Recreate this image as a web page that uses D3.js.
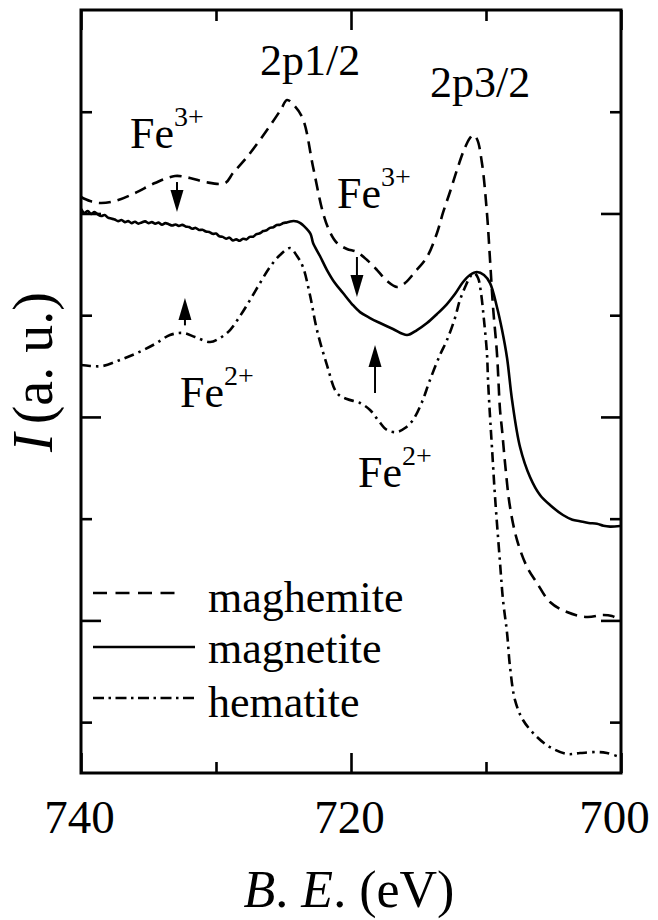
<!DOCTYPE html>
<html>
<head>
<meta charset="utf-8">
<script src="https://cdn.jsdelivr.net/npm/d3@7"></script>
<style>
  html, body { margin: 0; padding: 0; background: #fff; }
  svg { display: block; }
  text { font-family: "Liberation Serif", "Times New Roman", serif; fill: #000; }
</style>
</head>
<body>
<svg id="chart" width="658" height="920"></svg>
<script>
// Fe L-edge spectra: binding energy (eV) vs intensity (arbitrary units, stacked)
const maghemite = [
  [740.00, 6.162], [739.33, 6.122], [738.59, 6.103], [737.48, 6.122], [736.00, 6.201],
  [734.52, 6.299], [733.04, 6.368], [731.93, 6.349], [730.81, 6.309], [729.33, 6.299],
  [728.74, 6.398], [727.70, 6.555], [726.22, 6.820], [725.20, 7.020], [724.74, 7.115],
  [724.20, 7.060], [723.56, 6.929], [722.81, 6.457], [722.07, 6.005], [721.56, 5.818],
  [721.04, 5.710], [720.30, 5.651], [719.56, 5.621], [718.81, 5.542], [718.07, 5.444],
  [717.33, 5.336], [716.59, 5.277], [716.00, 5.316], [715.26, 5.425], [714.37, 5.572],
  [713.63, 5.808], [713.19, 6.005], [712.67, 6.211], [712.15, 6.427], [711.63, 6.624],
  [711.19, 6.742], [710.96, 6.771], [710.67, 6.732], [710.30, 6.496], [709.93, 6.005],
  [709.70, 5.542], [709.48, 5.081], [709.19, 4.628], [708.96, 4.068], [708.81, 3.871],
  [708.59, 3.547], [708.22, 3.114], [707.70, 2.790], [706.96, 2.525], [706.22, 2.367],
  [705.26, 2.181], [704.00, 2.082], [702.52, 2.033], [701.33, 2.053], [700.67, 2.043],
  [700.07, 2.004]
];

const magnetite = [
  [740.00, 6.044], [739.75, 6.005], [739.50, 6.024], [739.25, 5.995], [739.00, 6.014],
  [738.75, 5.990], [738.50, 5.975], [738.25, 5.985], [738.00, 5.960], [737.75, 5.950],
  [737.50, 5.940], [737.25, 5.925], [737.00, 5.935], [736.75, 5.915], [736.50, 5.925],
  [736.25, 5.905], [736.00, 5.918], [735.75, 5.900], [735.50, 5.912], [735.25, 5.922],
  [735.00, 5.905], [734.75, 5.915], [734.50, 5.900], [734.25, 5.910], [734.00, 5.890],
  [733.75, 5.905], [733.50, 5.895], [733.25, 5.882], [733.00, 5.892], [732.75, 5.878],
  [732.50, 5.888], [732.25, 5.872], [732.00, 5.866], [731.75, 5.850], [731.50, 5.858],
  [731.25, 5.838], [731.00, 5.840], [730.75, 5.822], [730.50, 5.818], [730.25, 5.800],
  [730.00, 5.802], [729.75, 5.776], [729.50, 5.770], [729.25, 5.752], [729.00, 5.762],
  [728.75, 5.735], [728.50, 5.745], [728.25, 5.732], [728.00, 5.752], [727.75, 5.745],
  [727.50, 5.770], [727.25, 5.772], [727.00, 5.797], [726.75, 5.805], [726.50, 5.827],
  [726.25, 5.835], [726.00, 5.858], [725.75, 5.865], [725.50, 5.886], [725.25, 5.890],
  [725.00, 5.906], [724.75, 5.912], [724.50, 5.922], [724.25, 5.926], [724.00, 5.922],
  [723.75, 5.905], [723.50, 5.878], [723.00, 5.800], [722.81, 5.710], [722.30, 5.582],
  [721.78, 5.444], [721.19, 5.316], [720.59, 5.218], [719.93, 5.110], [719.33, 5.030],
  [718.59, 4.972], [717.85, 4.923], [716.89, 4.864], [715.85, 4.805], [715.11, 4.854],
  [714.37, 4.923], [713.63, 5.012], [712.89, 5.110], [712.30, 5.208], [711.70, 5.326],
  [711.19, 5.395], [710.67, 5.425], [710.15, 5.395], [709.70, 5.316], [709.19, 5.081],
  [708.81, 4.854], [708.44, 4.579], [708.07, 4.166], [707.48, 3.704], [706.74, 3.409],
  [706.00, 3.232], [705.26, 3.134], [704.30, 3.036], [703.60, 2.990], [703.04, 2.975],
  [702.40, 2.958], [701.78, 2.950], [701.30, 2.930], [700.81, 2.922], [700.07, 2.928]
];

const hematite = [
  [740.00, 4.510], [739.33, 4.501], [738.37, 4.501], [737.11, 4.560], [735.85, 4.628],
  [734.52, 4.717], [733.41, 4.805], [732.44, 4.825], [731.56, 4.786], [730.44, 4.736],
  [729.70, 4.776], [728.96, 4.854], [728.22, 4.992], [727.48, 5.149], [726.74, 5.316],
  [726.00, 5.474], [725.26, 5.592], [724.52, 5.660], [724.00, 5.582], [723.56, 5.474],
  [723.04, 5.198], [722.52, 4.854], [721.78, 4.510], [721.04, 4.235], [720.30, 4.176],
  [719.33, 4.137], [718.59, 4.068], [718.00, 3.970], [717.33, 3.871], [716.59, 3.852],
  [716.00, 3.891], [715.41, 3.970], [714.74, 4.147], [714.15, 4.363], [713.41, 4.609],
  [712.89, 4.756], [712.30, 4.972], [711.93, 5.149], [711.48, 5.297], [711.19, 5.375],
  [710.89, 5.415], [710.59, 5.366], [710.37, 5.218], [710.15, 4.953], [709.93, 4.628],
  [709.85, 4.363], [709.70, 3.999], [709.56, 3.704], [709.33, 3.213], [708.96, 2.564],
  [708.74, 2.200], [708.44, 1.876], [708.22, 1.542], [707.85, 1.217], [707.26, 1.021],
  [706.22, 0.854], [705.26, 0.755], [704.00, 0.687], [703.04, 0.696], [701.78, 0.706],
  [701.04, 0.696], [700.30, 0.667]
];

const seriesNames = ["maghemite", "magnetite", "hematite"];
const xMajorTicks = [740, 720, 700];
const xMinorTicks = [730, 710];
const yMajorTicks = [2, 4, 6];
const yMinorTicks = [1, 3, 5, 7];

// peak and valence labels, placed in data coordinates (E, I)
const peakLabels = [
  { text: "2p1/2", E: 726.74, I: 7.361 },
  { text: "2p3/2", E: 714.15, I: 7.145 }
];
const ionLabels = [
  { base: "Fe", sup: "3+", E: 736.37, I: 6.643 },
  { base: "Fe", sup: "3+", E: 721.04, I: 6.054 },
  { base: "Fe", sup: "2+", E: 732.67, I: 4.097 },
  { base: "Fe", sup: "2+", E: 719.48, I: 3.311 }
];
// arrows: energy, tail intensity, tip intensity
const arrows = [
  { E: 732.89, from: 6.309, to: 6.014 },
  { E: 719.56, from: 5.572, to: 5.179 },
  { E: 732.30, from: 4.900, to: 5.169 },
  { E: 718.22, from: 4.235, to: 4.707 }
];

const svg = d3.select("#chart");
const plotLeft = 81, plotRight = 621, plotTop = 10, plotBottom = 773;

const x = d3.scaleLinear().domain([740, 700]).range([plotLeft, plotRight]);
const y = d3.scaleLinear().domain([0.5, 8]).range([plotBottom, plotTop]);

const dashes = {
  maghemite: "12,7",
  magnetite: null,
  hematite: "10,5,2.5,5"
};
const legendDashes = {
  maghemite: "14,8.5",
  magnetite: null,
  hematite: "11,4.5,2.5,4.5"
};

const line = d3.line()
  .x(d => x(d[0]))
  .y(d => y(d[1]))
  .curve(d3.curveCatmullRom.alpha(0.5));

const data = { maghemite, magnetite, hematite };

// curves
seriesNames.forEach(name => {
  svg.append("path")
    .datum(data[name])
    .attr("d", line)
    .attr("fill", "none")
    .attr("stroke", "#000")
    .attr("stroke-width", 2.6)
    .attr("stroke-linejoin", "round")
    .attr("stroke-dasharray", dashes[name]);
});

// axes (ticks pointing inward)
function styleAxis(g) {
  g.select(".domain").remove();
  g.selectAll(".tick line").attr("stroke", "#000").attr("stroke-width", 2.6);
}
const noLabel = () => "";

svg.append("g").attr("transform", `translate(0,${plotBottom})`)
  .call(d3.axisBottom(x).tickValues(xMajorTicks).tickSize(-20).tickFormat(d3.format("d")))
  .call(styleAxis)
  .call(g => g.selectAll(".tick text")
    .attr("y", 60).attr("dy", 0)
    .attr("dx", d => d === 700 ? -7 : -2)
    .attr("font-size", 47)
    .attr("font-family", '"Liberation Serif", "Times New Roman", serif')
    .attr("fill", "#000"));
svg.append("g").attr("transform", `translate(0,${plotBottom})`)
  .call(d3.axisBottom(x).tickValues(xMinorTicks).tickSize(-11).tickFormat(noLabel))
  .call(styleAxis);
svg.append("g").attr("transform", `translate(0,${plotTop})`)
  .call(d3.axisTop(x).tickValues(xMajorTicks).tickSize(-20).tickFormat(noLabel))
  .call(styleAxis);
svg.append("g").attr("transform", `translate(0,${plotTop})`)
  .call(d3.axisTop(x).tickValues(xMinorTicks).tickSize(-11).tickFormat(noLabel))
  .call(styleAxis);
svg.append("g").attr("transform", `translate(${plotLeft},0)`)
  .call(d3.axisLeft(y).tickValues(yMajorTicks).tickSize(-20).tickFormat(noLabel))
  .call(styleAxis);
svg.append("g").attr("transform", `translate(${plotLeft},0)`)
  .call(d3.axisLeft(y).tickValues(yMinorTicks).tickSize(-11).tickFormat(noLabel))
  .call(styleAxis);
svg.append("g").attr("transform", `translate(${plotRight},0)`)
  .call(d3.axisRight(y).tickValues(yMajorTicks).tickSize(-20).tickFormat(noLabel))
  .call(styleAxis);
svg.append("g").attr("transform", `translate(${plotRight},0)`)
  .call(d3.axisRight(y).tickValues(yMinorTicks).tickSize(-11).tickFormat(noLabel))
  .call(styleAxis);

// frame
svg.append("rect")
  .attr("x", plotLeft).attr("y", plotTop)
  .attr("width", plotRight - plotLeft).attr("height", plotBottom - plotTop)
  .attr("fill", "none").attr("stroke", "#000").attr("stroke-width", 3);

// axis titles
const xTitle = svg.append("text")
  .attr("x", 349).attr("y", 907)
  .attr("text-anchor", "middle")
  .attr("font-size", 52);
xTitle.append("tspan").attr("font-style", "italic").text("B");
xTitle.append("tspan").text(". ");
xTitle.append("tspan").attr("font-style", "italic").text("E");
xTitle.append("tspan").text(". (eV)");

const yTitle = svg.append("text")
  .attr("transform", "translate(52,452) rotate(-90)")
  .attr("text-anchor", "start")
  .attr("font-size", 56);
yTitle.append("tspan").attr("font-style", "italic").text("I");
yTitle.append("tspan").attr("dx", 9).text("(a. u.)");

// peak labels
svg.selectAll("text.peak").data(peakLabels).join("text")
  .attr("class", "peak")
  .attr("x", d => x(d.E)).attr("y", d => y(d.I))
  .attr("font-size", 44)
  .text(d => d.text);

// ion labels with superscript charge
svg.selectAll("text.ion").data(ionLabels).join("text")
  .attr("class", "ion")
  .attr("x", d => x(d.E)).attr("y", d => y(d.I))
  .attr("font-size", 44)
  .each(function(d) {
    const t = d3.select(this);
    t.append("tspan").text(d.base);
    t.append("tspan").attr("dy", -22).attr("font-size", 28).text(d.sup);
  });

// arrows
arrows.forEach(a => {
  const ax = x(a.E), y0 = y(a.from), y1 = y(a.to);
  const dir = Math.sign(y1 - y0);
  const headLen = 22, halfW = 6.5;
  svg.append("line")
    .attr("x1", ax).attr("x2", ax)
    .attr("y1", y0).attr("y2", y1 - dir * headLen)
    .attr("stroke", "#000").attr("stroke-width", 2);
  svg.append("path")
    .attr("d", `M${ax},${y1} L${ax - halfW},${y1 - dir * headLen} L${ax + halfW},${y1 - dir * headLen} Z`)
    .attr("fill", "#000");
});

// legend
const legendLineY = [593, 647, 698];
const legendTextY = [612, 663, 717];
const legendLineEnd = [175, 195, 195];
seriesNames.forEach((name, i) => {
  svg.append("line")
    .attr("x1", 93).attr("x2", legendLineEnd[i])
    .attr("y1", legendLineY[i]).attr("y2", legendLineY[i])
    .attr("stroke", "#000").attr("stroke-width", 2.6)
    .attr("stroke-dasharray", legendDashes[name]);
  svg.append("text")
    .attr("x", 208).attr("y", legendTextY[i])
    .attr("font-size", 44)
    .text(name);
});
</script>
</body>
</html>
